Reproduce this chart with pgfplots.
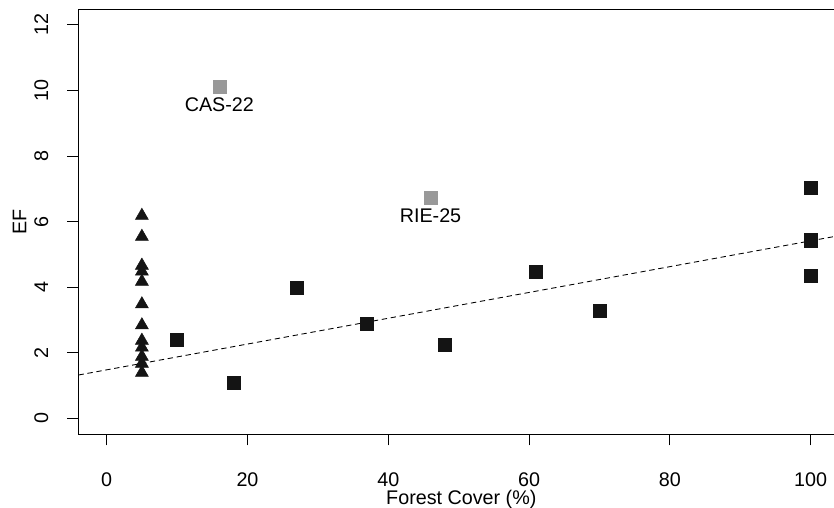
\documentclass[border=0pt]{standalone}
\usepackage{fontspec}
\setmainfont{Liberation Sans}
\usepackage{pgfplots}
\pgfplotsset{compat=1.18}
\definecolor{ptblack}{RGB}{20,20,20}
\definecolor{ptgray}{RGB}{153,153,153}
\begin{document}
\begin{tikzpicture}[font=\fontsize{14.8}{17}\selectfont]
\begin{axis}[
  at={(0,0)}, anchor=south west,
  scale only axis, width=570.2pt, height=318.6pt,
  xmin=-4, xmax=104, ymin=-0.48, ymax=12.48,
  xtick={0,20,...,100}, ytick={0,2,...,12},
  tick pos=left, tick align=outside, major tick length=8.5pt,
  tick style={black, line width=0.75pt},
  axis line style={line width=0.75pt},
  /pgf/number format/assume math mode=true,
  xticklabel style={anchor=base, yshift=-30.9pt},
  yticklabel style={xshift=-14.25pt, rotate=90, anchor=base},
  every axis x label/.style={at={(axis description cs:0.5,0)}, xshift=2pt, yshift=-52.8pt, anchor=base},
  every axis y label/.style={at={(axis description cs:0,0.5)}, xshift=-39.2pt, rotate=90, anchor=base},
  xlabel={Forest Cover (\%)}, ylabel={EF},
  clip=false,
]
% regression line
\addplot[black, line width=0.65pt, dash pattern=on 4pt off 2.8pt] coordinates {(-4,1.32) (104,5.57)};
% triangles (x = 5)
\addplot[only marks, mark=triangle*, mark size=5.6pt, mark options={fill=ptblack, draw=ptblack}] coordinates {
(5,6.18) (5,5.54) (5,4.66) (5,4.48) (5,4.17) (5,3.48) (5,2.84) (5,2.37) (5,2.16) (5,1.88) (5,1.67) (5,1.39)};
% black squares
\addplot[only marks, mark=square*, mark size=4.9pt, mark options={fill=ptblack, draw=ptblack}] coordinates {
(10,2.39) (18,1.08) (27,3.98) (37,2.88) (48,2.24) (61,4.46) (70,3.27) (100,7.03) (100,5.43) (100,4.35)};
% gray squares
\addplot[only marks, mark=square*, mark size=4.9pt, mark options={fill=ptgray, draw=ptgray}] coordinates {
(16,10.11) (46,6.72)};
\node[anchor=base, yshift=-18.5pt] at (axis cs:16,10.11) {CAS-22};
\node[anchor=base, yshift=-18.5pt] at (axis cs:46,6.72) {RIE-25};
\end{axis}
\pgfresetboundingbox
\path[use as bounding box] (-58.9pt,-54.75pt) rectangle (566.6pt,325.5pt);
\end{tikzpicture}
\end{document}
